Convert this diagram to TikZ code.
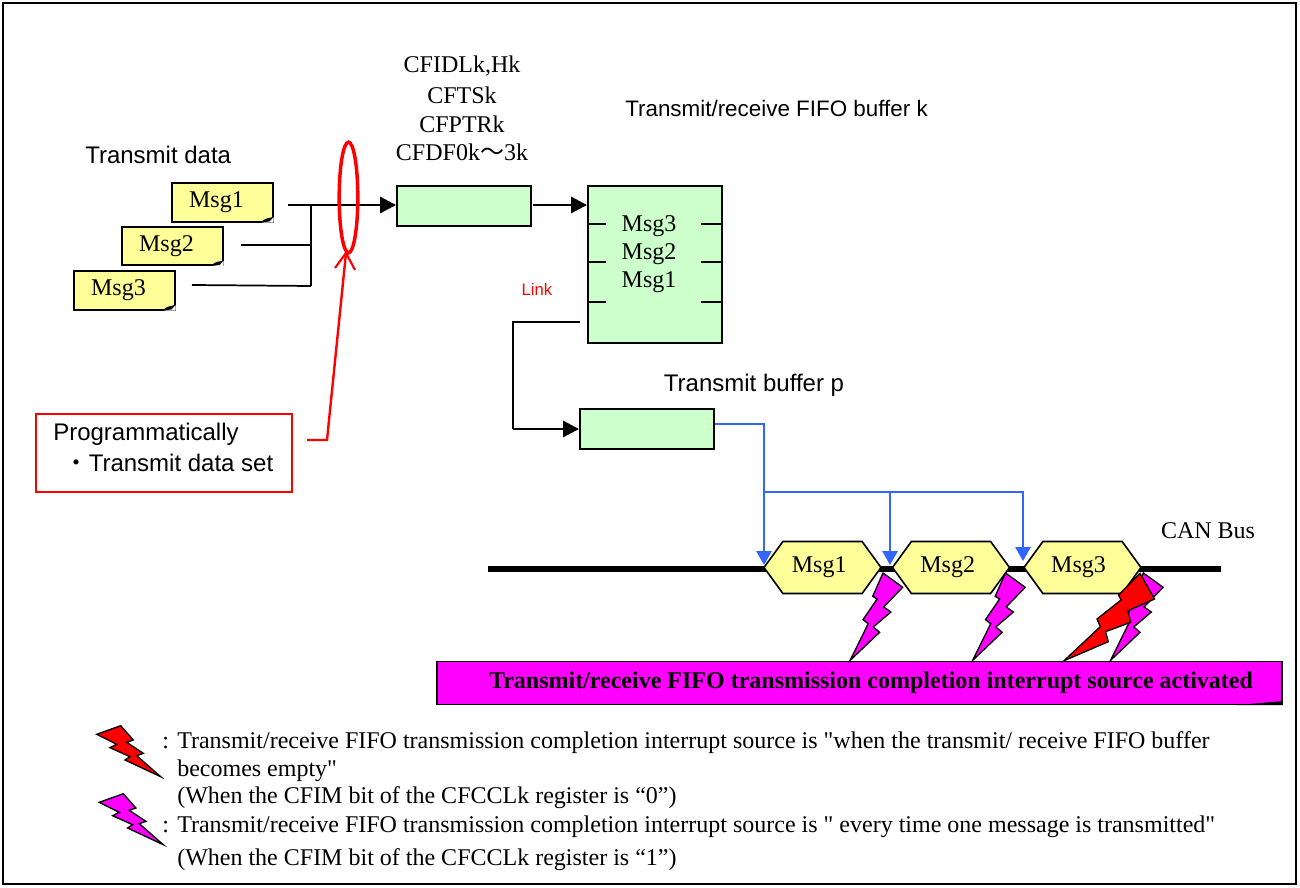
\documentclass[tikz,border=0pt]{standalone}
\usepackage{fontspec}
\setmainfont{Liberation Serif}
\setsansfont{Liberation Sans}
\newfontfamily\cjk{Noto Sans CJK JP}
\newfontfamily\plainserif{Liberation Serif}
\newcommand{\sq}{{\plainserif"}}
\usetikzlibrary{arrows.meta,shapes.geometric,shapes.symbols}
\definecolor{noteyellow}{HTML}{FFFF99}
\definecolor{boxgreen}{HTML}{CCFFCC}
\definecolor{busblue}{HTML}{3366FF}
\definecolor{intmagenta}{HTML}{FF00FF}
\begin{document}
\begin{tikzpicture}[x=0.75pt,y=-0.75pt]
    \tikzset{serif/.style={font=\fontsize{18}{20}\selectfont, inner sep=0pt},
      sans/.style={font=\fontsize{18}{20}\sffamily\selectfont, inner sep=0pt},
      note/.style={draw, line width=1.3pt, fill=noteyellow, serif, minimum width=75.5pt, minimum height=29pt},
      greenbox/.style={draw, line width=1.4pt, fill=boxgreen, inner sep=0pt, minimum width=100.5pt},
      hexmsg/.style={draw, line width=1.2pt, fill=noteyellow, serif, signal, signal to=east and west, signal pointer angle=108, minimum width=87.75pt, minimum height=39pt},
      wire/.style={line width=1.3pt},
      flow/.style={line width=2.2pt, -{Triangle[length=12pt,width=12pt]}},
      blueflow/.style={busblue, line width=1.4pt, -{Triangle[length=10.5pt,width=11.5pt]}},
      bolt/.style={draw, line width=1pt, line join=miter},
      pics/mainbolt/.style={code={\path[bolt, fill=#1] (0,0) -- (19.7,14.3) -- (0.7,34) -- (7.9,39) -- (-9.7,54) -- (-3.4,59.3) -- (-32.8,87.3) -- (-14.8,50.7) -- (-20,46.7) -- (-5.9,26) -- (-10.3,23.3) -- cycle;}},
      pics/legendbolt/.style={code={\path[bolt, fill=#1] (0,0) -- (24,-8.6) -- (36.6,5.7) -- (30,8) -- (46.6,19) -- (40,21.4) -- (64,42.4) -- (28.3,25.7) -- (33.3,22.4) -- (13.3,13.4) -- (20,10) -- cycle;}}}
    \useasboundingbox (0,0) rectangle (1300,888);
    \draw[line width=1.2pt] (3,3) rectangle (1296,884);

    \node[sans, anchor=west] at (85,155) (data_label) {Transmit data};
    \node[note] at (222.5,202.5) (msg_1) {\raisebox{-1pt}{Msg1}\hspace{9pt}\null};
    \node[note] at (172.5,246) (msg_2) {\raisebox{-1pt}{Msg2}\hspace{9pt}\null};
    \node[note] at (124.5,290.5) (msg_3) {\raisebox{-1pt}{Msg3}\hspace{9pt}\null};
    \foreach \n in {msg_1,msg_2,msg_3} {
      \fill[white] ([xshift=-9pt]\n.south east) -- ([yshift=4pt]\n.south east) -- (\n.south east) -- cycle;
      \fill[black] ([xshift=-9.5pt]\n.south east) .. controls ([xshift=-6pt,yshift=4.5pt]\n.south east) and ([xshift=-3pt,yshift=3pt]\n.south east) .. ([yshift=4.5pt]\n.south east) -- ([xshift=-3pt,yshift=1pt]\n.south east) -- cycle;
    }

    \node[serif] at (462,66) (reg_1) {CFIDLk,Hk};
    \node[serif] at (462,95) (reg_2) {CFTSk};
    \node[serif] at (462,124) (reg_3) {CFPTRk};
    \node[serif] at (462,152) (reg_4) {CFDF0k{\cjk 〜}3k};
    \node[greenbox, minimum height=30pt] at (464,206) (reg_box) {};
    \node[sans, font=\fontsize{16.8}{20}\sffamily\selectfont, anchor=west] at (625,108) (fifo_label) {Transmit/receive FIFO buffer k};
    \node[greenbox, minimum height=117.75pt] at (655,264.5) (fifo) {};
    \node[serif] at (649,226) (fifo_3) {Msg3};
    \node[serif] at (649,254) (fifo_2) {Msg2};
    \node[serif] at (649,282) (fifo_1) {Msg1};
    \foreach \y in {224,262,302} {
      \draw[wire] (588,\y) -- (606,\y);
      \draw[wire] (701,\y) -- (722,\y);
    }
    \node[font=\fontsize{12.5}{14}\sffamily\selectfont, text=red, inner sep=0pt] at (537,289) (link_label) {Link};
    \node[sans] at (754,385) (buffer_label) {Transmit buffer p};
    \node[greenbox, minimum height=30pt] at (647,429) (buffer_p) {};

    % message lines
    \coordinate (m_1) at (288,205);
    \coordinate (m_2) at (241,245);
    \coordinate (m_3) at (192,285);
    \coordinate (j_1) at (311,205);
    \coordinate (j_2) at (311,245);
    \coordinate (j_3) at (311,286);
    \draw[flow] (m_1) -- (m_1 -| reg_box.west);
    \draw[line width=1.6pt] (j_1) -- (j_3);
    \draw[wire] (m_2) -- (j_2);
    \draw[wire] (m_3) -- (j_3);
    \draw[flow] (533,205) -- (533,205 -| fifo.west);

    % link
    \coordinate (l_1) at (580,322);
    \coordinate (l_2) at (513,322);
    \coordinate (l_3) at (513,429);
    \draw[wire] (l_1) -- (l_2) -- (l_3);
    \draw[flow] (l_3) -- (buffer_p.west);

    % red callout
    \node[draw=red, line width=1.6pt, minimum width=192pt, minimum height=58.5pt, inner sep=0pt] at (164,453) (prog_box) {};
    \node[sans, anchor=west] at (53,434) (prog_1) {Programmatically};
    \node[sans, anchor=west] at (64.5,463) (prog_2) {{\cjk ・}Transmit data set};
    \node[draw=red, line width=2.6pt, ellipse, inner sep=0pt, minimum width=14pt, minimum height=83pt] at (348.5,197.5) (set_ring) {};
    \coordinate (r_1) at (307,440);
    \coordinate (r_2) at (327,440);
    \coordinate (r_3) at (346,253);
    \coordinate (r_4) at (335,268);
    \coordinate (r_5) at (355,270);
    \draw[red, line width=1.8pt] (r_1) -- (r_2) -- (r_3);
    \draw[red, line width=1.6pt] (r_4) -- (r_3) -- (r_5);

    % bus
    \coordinate (bus_a) at (488,569);
    \coordinate (bus_b) at (1221,569);
    \draw[line width=4.5pt] (bus_a) -- (bus_b);
    \node[serif] at (1208,531) (bus_label) {CAN Bus};
    \node[hexmsg] at (822.5,567.5) (hex_1) {\raisebox{-1pt}{Msg1}\hspace{5pt}\null};
    \node[hexmsg] at (951,567.5) (hex_2) {\raisebox{-1pt}{Msg2}\hspace{5pt}\null};
    \node[hexmsg] at (1082.5,567.5) (hex_3) {\raisebox{-1pt}{Msg3}\hspace{6pt}\null};

    % blue lines
    \coordinate (b_1) at (764,424);
    \coordinate (b_2) at (764,492);
    \coordinate (b_3) at (890,492);
    \coordinate (b_4) at (1023,492);
    \draw[blueflow] (buffer_p.east |- b_1) -- (b_1) -- (764,565);
    \draw[blueflow] (b_3) -- (890,565);
    \draw[blueflow] (b_2) -- (b_4) -- (1023,561);

    % interrupt bar
    \node[draw, line width=1.2pt, fill=intmagenta, minimum width=633.75pt, minimum height=32pt, inner sep=0pt] at (859.5,683) (int_bar) {};
    \fill[black] ([xshift=-35pt]int_bar.south east) -- ([yshift=3pt]int_bar.south east) -- (int_bar.south east) -- cycle;
    \node[serif, font=\fontsize{18}{20}\bfseries\selectfont] at (871,683) (int_label) {Transmit/receive FIFO transmission completion interrupt source activated};
    \pic at (883,573) {mainbolt=intmagenta};
    \pic at (1005.5,573) {mainbolt=intmagenta};
    \pic at (1143.4,573) {mainbolt=intmagenta};
    \path[bolt, fill=red] (1140,573.3) -- (1154.5,599) -- (1128,610.7) -- (1130.7,622.3) -- (1105.5,631.7) -- (1108.3,641.7) -- (1064,660.7) -- (1100.3,626.7) -- (1097,619) -- (1121,600) -- (1118.6,595) -- cycle;

    % legend
    \pic at (96.7,734.3) {legendbolt=red};
    \pic at (99.3,802.3) {legendbolt=intmagenta};
    \node[serif, anchor=west] at (162,743) (colon_1) {:};
    \node[serif, anchor=west] at (177,743) (text_1) {Transmit/receive FIFO transmission completion interrupt source is \sq when the transmit/ receive FIFO buffer};
    \node[serif, anchor=west] at (177,771) (text_2) {becomes empty\sq};
    \node[serif, anchor=west] at (177,798) (text_3) {(When the CFIM bit of the CFCCLk register is “0”)};
    \node[serif, anchor=west] at (162,827) (colon_2) {:};
    \node[serif, anchor=west] at (177,827) (text_4) {Transmit/receive FIFO transmission completion interrupt source is \sq{} every time one message is transmitted\sq};
    \node[serif, anchor=west] at (177,860) (text_5) {(When the CFIM bit of the CFCCLk register is “1”)};
\end{tikzpicture}
\end{document}
